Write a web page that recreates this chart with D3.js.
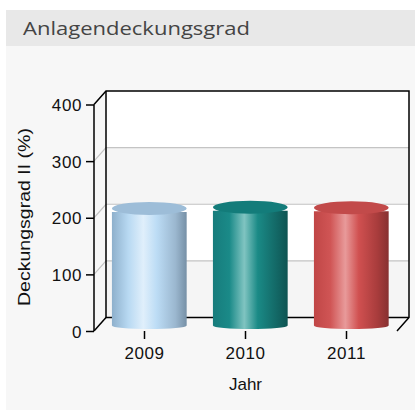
<!DOCTYPE html>
<html lang="de">
<head>
  <meta charset="UTF-8">
  <title>Anlagendeckungsgrad</title>
  <script src="https://d3js.org/d3.v7.min.js"></script>
  <style>
    body { margin: 0; background: #ffffff; }
    svg text { font-family: "Liberation Sans", Arial, sans-serif; fill: #111; }
  </style>
</head>
<body>
<script>
  // data
  const years = ['2009', '2010', '2011'];
  const values = [207, 209, 208];
  const yTicks = [0, 100, 200, 300, 400];
  const barColors = [
    { stops: ['#8eb0cc', '#b8d9f2', '#e0effb', '#bcdcf5', '#9bb7cf', '#7690a6'], top: '#9dbdd8' },
    { stops: ['#177c7c', '#1a8a88', '#80c4c1', '#1a8a86', '#136866', '#0e5452'], top: '#137c7a' },
    { stops: ['#c04646', '#d05555', '#e89a9a', '#d05050', '#a83c3c', '#873030'], top: '#c24a4a' }
  ];
  const stopOffsets = [0, 0.22, 0.42, 0.6, 0.85, 1];

  const W = 415, H = 410;
  const dx = 12, dy = 13.5;   // depth of the 3d box

  const svg = d3.select('body').append('svg')
    .attr('width', W)
    .attr('height', H);

  // panel background + title band
  svg.append('rect').attr('x', 6).attr('y', 10).attr('width', W - 6).attr('height', H - 10).attr('fill', '#f7f7f7');
  svg.append('rect').attr('x', 6).attr('y', 10).attr('width', W - 6).attr('height', 36).attr('fill', '#e8e8e8');
  svg.append('text')
    .attr('x', 23).attr('y', 35)
    .attr('textLength', 227).attr('lengthAdjust', 'spacingAndGlyphs')
    .style('font-family', '"Open Sans", "DejaVu Sans", sans-serif')
    .style('font-size', '19px')
    .style('fill', '#444')
    .text('Anlagendeckungsgrad');

  const x = d3.scaleBand().domain(years).range([94, 397]);
  const y = d3.scaleLinear().domain([0, 400]).range([331, 104.5]);

  const x0 = x.range()[0], x1 = x.range()[1];
  const yb = y(0), yt = y(400);

  // back wall with alternating bands
  const wall = svg.append('g');
  for (let i = 0; i < yTicks.length - 1; i++) {
    wall.append('rect')
      .attr('x', x0 + dx).attr('y', y(yTicks[i + 1]) - dy)
      .attr('width', x1 - x0).attr('height', y(yTicks[i]) - y(yTicks[i + 1]))
      .attr('fill', i % 2 === 0 ? '#f5f5f5' : '#ffffff');
  }

  // grid lines on back wall and left wall
  yTicks.slice(1, -1).forEach(t => {
    wall.append('path')
      .attr('d', `M${x0},${y(t)}L${x0 + dx},${y(t) - dy}L${x1 + dx},${y(t) - dy}`)
      .attr('fill', 'none')
      .attr('stroke', '#c4c4c4')
      .attr('stroke-width', 1.2);
  });

  // frame lines
  const frame = [
    `M${x0 + dx},${yt - dy}L${x0 + dx},${yb - dy}L${x1 + dx},${yb - dy}`,
    `M${x0},${yb}L${x0 + dx},${yb - dy}`,
    `M${x0},${yt}L${x0 + dx},${yt - dy}L${x1 + dx},${yt - dy}L${x1 + dx},${yb - dy}L${x1},${yb}`
  ];
  svg.append('g').selectAll('path').data(frame).enter().append('path')
    .attr('d', d => d)
    .attr('fill', 'none')
    .attr('stroke', '#000')
    .attr('stroke-width', 1.5);

  // gradients for cylinders
  const defs = svg.append('defs');
  barColors.forEach((c, i) => {
    const g = defs.append('linearGradient').attr('id', 'cyl' + i)
      .attr('x1', '0%').attr('x2', '100%').attr('y1', '0%').attr('y2', '0%');
    c.stops.forEach((s, j) => g.append('stop').attr('offset', stopOffsets[j]).attr('stop-color', s));
  });

  // cylinders
  const bw = x.bandwidth() * 0.74;
  const rx = bw / 2, ryTop = 6.5, ryBot = 3.5;
  const depthFrac = 0.4;
  const bars = svg.append('g').selectAll('g').data(years).enter().append('g');
  bars.each(function (yr, i) {
    const g = d3.select(this);
    const cx = x(yr) + x.bandwidth() / 2 + dx * depthFrac;
    const base = y(0) - dy * depthFrac;
    const top = y(values[i]) - dy * depthFrac;
    g.append('path')
      .attr('d', `M${cx - rx},${top}L${cx - rx},${base - ryBot}` +
        `A${rx},${ryBot} 0 0 0 ${cx + rx},${base - ryBot}` +
        `L${cx + rx},${top}Z`)
      .attr('transform', `translate(0,${ryBot})`)
      .attr('fill', `url(#cyl${i})`);
    g.append('ellipse')
      .attr('cx', cx).attr('cy', top)
      .attr('rx', rx).attr('ry', ryTop)
      .attr('fill', barColors[i].top);
  });

  // front y axis
  const yAxis = d3.axisLeft(y).tickValues(yTicks).tickSize(8).tickPadding(4);
  const gy = svg.append('g').attr('transform', `translate(${x0},0)`).call(yAxis);
  gy.select('.domain').attr('stroke', '#000').attr('stroke-width', 1.5).attr('d', `M0,${yb}V${yt}`);
  gy.selectAll('.tick line').attr('stroke', '#000').attr('stroke-width', 1.5);
  gy.selectAll('.tick text')
    .style('font-size', '17px')
    .style('letter-spacing', '0.6px')
    .attr('dy', '0.36em')
    .attr('fill', '#111');

  // front x axis
  const xAxis = d3.axisBottom(x).tickSize(8).tickPadding(8);
  const gx = svg.append('g').attr('transform', `translate(0,${yb})`).call(xAxis);
  gx.select('.domain').remove();
  gx.selectAll('.tick line').attr('stroke', '#000').attr('stroke-width', 1.5);
  gx.selectAll('.tick text')
    .style('font-size', '17px')
    .style('letter-spacing', '0.6px')
    .attr('fill', '#111');

  // axis titles
  svg.append('text')
    .attr('x', x(years[1]) + x.bandwidth() / 2)
    .attr('y', 390)
    .attr('text-anchor', 'middle')
    .style('font-size', '17px')
    .text('Jahr');

  svg.append('text')
    .attr('transform', 'translate(30,217) rotate(-90)')
    .attr('text-anchor', 'middle')
    .attr('textLength', 178).attr('lengthAdjust', 'spacingAndGlyphs')
    .style('font-size', '16px')
    .text('Deckungsgrad II (%)');
</script>
</body>
</html>
